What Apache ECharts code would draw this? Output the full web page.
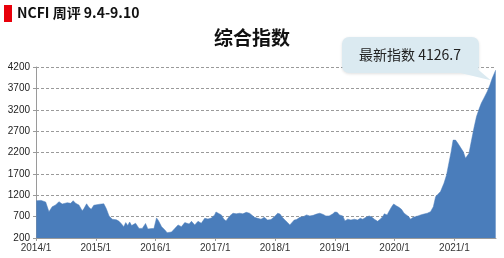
<!DOCTYPE html>
<html><head><meta charset="utf-8">
<script src="https://cdn.jsdelivr.net/npm/echarts@6/dist/echarts.min.js"></script>
<style>html,body{margin:0;padding:0;background:#fff}#c{width:504px;height:258px}</style>
</head><body><div id="c"></div>
<script>
const dates = ['2014-01-03','2014-02-01','2014-03-01','2014-03-21','2014-04-01','2014-04-10','2014-04-21','2014-05-01','2014-05-21','2014-06-10','2014-07-11','2014-08-01','2014-08-16','2014-08-31','2014-09-20','2014-10-10','2014-10-21','2014-11-06','2014-11-20','2014-12-04','2014-12-20',
'2015-01-01','2015-01-25','2015-02-19','2015-03-06','2015-03-23','2015-04-12','2015-05-07','2015-05-23','2015-06-06','2015-06-21','2015-07-03','2015-07-15','2015-07-27','2015-08-08','2015-09-01','2015-09-22','2015-10-12','2015-11-01','2015-11-15','2015-12-08','2015-12-22',
'2016-01-07','2016-01-19','2016-02-07','2016-02-27','2016-03-12','2016-03-24','2016-04-08','2016-04-28','2016-05-18','2016-06-07','2016-06-28','2016-07-08','2016-07-24','2016-08-08','2016-08-28','2016-09-17','2016-10-07','2016-10-28','2016-11-17','2016-12-07','2016-12-28',
'2017-01-05','2017-01-17','2017-02-07','2017-02-21','2017-03-07','2017-03-19','2017-03-30','2017-04-19','2017-05-09','2017-05-29','2017-06-18','2017-07-09','2017-07-29','2017-08-08','2017-08-28','2017-09-17','2017-10-07','2017-10-27','2017-11-16','2017-12-07',
'2018-01-01','2018-01-17','2018-01-31','2018-02-14','2018-03-02','2018-03-18','2018-04-01','2018-04-12','2018-04-28','2018-05-12','2018-06-01','2018-06-22','2018-07-12','2018-08-01','2018-08-22','2018-09-11','2018-10-01','2018-10-22','2018-11-07','2018-11-27','2018-12-18',
'2019-01-01','2019-01-15','2019-01-29','2019-02-18','2019-03-04','2019-03-20','2019-04-09','2019-04-30','2019-05-20','2019-06-05','2019-06-20','2019-07-10','2019-07-30','2019-08-14','2019-08-30','2019-09-19','2019-10-05','2019-10-20','2019-10-30','2019-11-16','2019-11-30','2019-12-14','2019-12-26',
'2020-01-13','2020-01-27','2020-02-12','2020-02-28','2020-03-13','2020-03-27','2020-04-08','2020-04-23','2020-05-07','2020-05-23','2020-06-08','2020-06-29','2020-07-19','2020-08-08','2020-08-25','2020-09-08','2020-09-18','2020-10-08','2020-10-29','2020-11-14','2020-11-28','2020-12-12','2020-12-24',
'2021-01-08','2021-01-22','2021-02-07','2021-02-24','2021-03-10','2021-03-20','2021-03-31','2021-04-14','2021-04-30','2021-05-16','2021-05-31','2021-06-14','2021-06-30','2021-07-20','2021-08-06','2021-08-20','2021-09-10'];
const values = [1073,1080,1042,815,808,932,918,972,1050,995,1026,1010,1073,1010,972,840,888,1000,918,872,965,
940,990,1000,888,716,640,625,590,535,465,560,490,575,490,545,425,425,540,410,420,420,
670,605,465,390,325,295,340,425,505,465,560,600,530,590,505,590,545,660,645,665,740,
808,800,740,645,600,620,716,780,765,780,765,800,780,740,685,660,640,685,620,630,
716,780,760,685,620,560,505,545,620,630,685,700,740,716,730,760,780,750,716,716,760,
808,800,740,716,600,640,620,640,620,660,640,685,716,690,640,590,640,700,765,740,840,932,995,
950,918,870,780,740,700,640,685,700,716,740,760,780,815,930,1165,1205,1285,1480,1675,1950,2220,2490,
2490,2415,2320,2220,2065,2040,2180,2455,2765,3040,3210,3350,3470,3620,3780,3935,4126.7];
const yTicks = [200,700,1200,1700,2200,2700,3200,3700,4200];
const xYears = [2014,2015,2016,2017,2018,2019,2020,2021];
const pageTitle = 'NCFI 周评 9.4-9.10';
const chartTitle = '综合指数';
const latestLabel = '最新指数 ' + values[values.length-1];

function toYear(s){
  const d = new Date(s+'T00:00:00Z');
  const y = d.getUTCFullYear();
  const a = Date.UTC(y,0,1), b = Date.UTC(y+1,0,1);
  return y + (d.getTime()-a)/(b-a);
}
const seriesData = dates.map((d,i)=>[toYear(d), values[i]]);

const chart = echarts.init(document.getElementById('c'), null, {renderer:'canvas'});
const baseGraphic = [
  {type:'rect',left:4,top:5,shape:{width:8,height:17},style:{fill:'#e8000b'}},
  {type:'text',left:17,top:6,style:{text:pageTitle,font:'bold 14px "Noto Sans CJK SC", sans-serif',fill:'#111'}},
  {type:'text',left:'center',top:28,style:{text:chartTitle,font:'bold 19px "Noto Sans CJK SC", sans-serif',fill:'#111'}}
];
const option = {
  animation:false,
  grid:{left:36,right:8,top:67,bottom:20},
  xAxis:{
    type:'value', min:xYears[0], max:toYear('2021-09-12'), interval:1,
    splitLine:{show:false},
    axisLine:{lineStyle:{color:'#9a9a9a',width:1}},
    axisTick:{show:true,length:3,lineStyle:{color:'#9a9a9a'}},
    axisLabel:{fontSize:10,color:'#333',fontFamily:'Liberation Sans',margin:5,
      formatter:v=> xYears.includes(v) ? v+'/1' : '', showMaxLabel:false}
  },
  yAxis:{
    type:'value', min:yTicks[0], max:yTicks[yTicks.length-1], interval:500,
    axisLine:{show:true,lineStyle:{color:'#9a9a9a'}},
    axisTick:{show:true,length:3,lineStyle:{color:'#9a9a9a'}},
    axisLabel:{fontSize:10,color:'#222',fontFamily:'Liberation Sans',margin:6,formatter:v=>String(v)},
    splitLine:{show:true,lineStyle:{color:'#9a9a9a',type:[3,2],width:1}}
  },
  series:[{
    type:'line', data:seriesData, symbol:'none', smooth:false,
    lineStyle:{width:0.5,color:'#4a7dbb'},
    areaStyle:{color:'#4a7dbb',opacity:1}
  }],
  graphic:baseGraphic
};
chart.setOption(option);
const tip = chart.convertToPixel({gridIndex:0}, seriesData[seriesData.length-1]);
chart.setOption({graphic:baseGraphic.concat([
  {type:'rect',shape:{x:342,y:37,width:137,height:36,r:7},style:{fill:'#dbeaf1',shadowBlur:3,shadowColor:'rgba(0,0,0,0.12)',shadowOffsetY:1}},
  {type:'polygon',shape:{points:[[448,70],[474,66],[tip[0]-5,tip[1]+10]]},style:{fill:'#dbeaf1'}},
  {type:'text',x:410,y:55,style:{text:latestLabel,font:'14px "Noto Sans CJK SC", sans-serif',fill:'#222',align:'center',verticalAlign:'middle'}}
])}, {replaceMerge:['graphic']});
</script></body></html>
